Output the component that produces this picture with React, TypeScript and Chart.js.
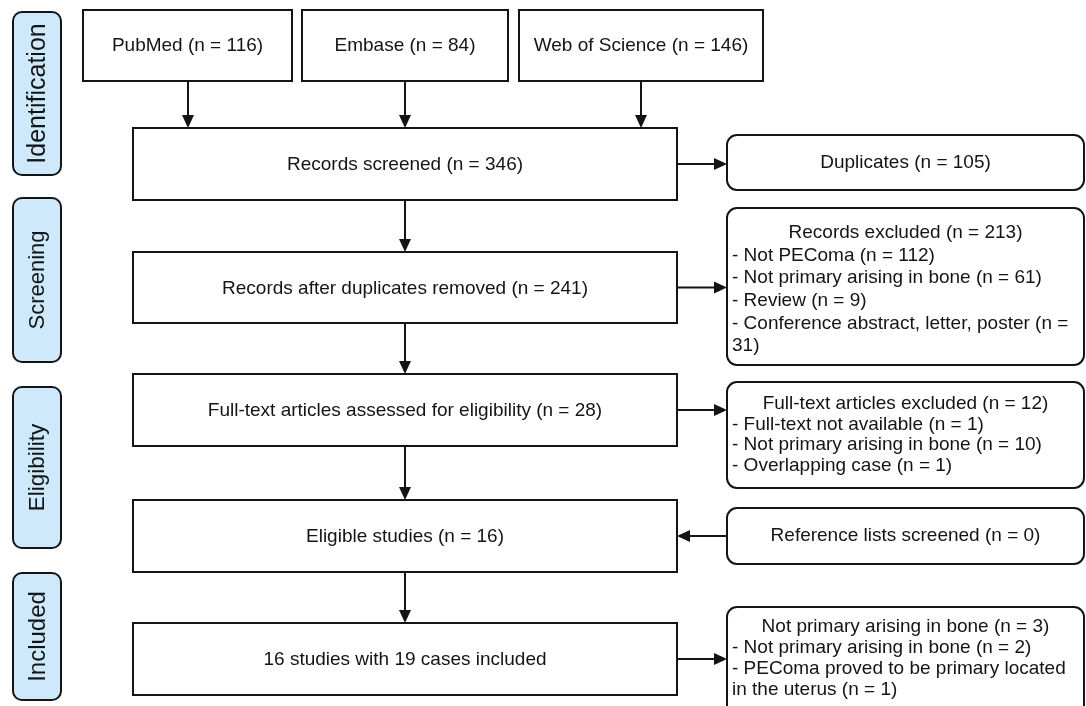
import React, { useEffect, useRef } from "react";
import { Chart, registerables } from "chart.js";

Chart.register(...registerables);

// ---------- data ----------
const sourceNames = ["PubMed", "Embase", "Web of Science"];
const sourceCounts = [116, 84, 146];

const stageNames = ["Identification", "Screening", "Eligibility", "Included"];

const mainSteps = [
  "Records screened",
  "Records after duplicates removed",
  "Full-text articles assessed for eligibility",
  "Eligible studies",
];
const mainCounts = [346, 241, 28, 16];
const includedStudies = 16;
const includedCases = 19;

const duplicatesCount = 105;

const recordsExcludedTotal = 213;
const recordsExcludedReasons = [
  "Not PEComa",
  "Not primary arising in bone",
  "Review",
  "Conference abstract, letter, poster",
];
const recordsExcludedCounts = [112, 61, 9, 31];

const fullTextExcludedTotal = 12;
const fullTextReasons = ["Full-text not available", "Not primary arising in bone", "Overlapping case"];
const fullTextCounts = [1, 10, 1];

const referenceListsCount = 0;

const notPrimaryTotal = 3;
const notPrimaryReasons = ["Not primary arising in bone", "PEComa proved to be primary located in the uterus"];
const notPrimaryCounts = [2, 1];

// ---------- layout (diagram units) ----------
const W = 1086;
const H = 706;
const sourceBoxX = [
  [83, 292],
  [302, 508],
  [519, 763],
];
const sourceBoxY = [10, 81];
const sourceArrowX = [188, 405, 641];
const mainBoxX = [133, 677];
const mainBoxY = [
  [128, 200],
  [252, 323],
  [374, 446],
  [500, 572],
  [623, 695],
];
const sideBoxX = [727, 1084];
const sideBoxY = [
  [135, 190],
  [208, 365],
  [382, 488],
  [508, 564],
  [607, 716],
];
const sideLineHeights = [22, 22.6, 20.5, 22, 21];
const sideTextShift = [0, 3, 0, 0, 3];
const stageBoxX = [13, 61];
const stageBoxY = [
  [12, 175],
  [198, 362],
  [387, 548],
  [573, 700],
];
const stageFontSizes = [25, 22, 22.5, 24];

const FONT = '"Liberation Sans", Arial, Helvetica, sans-serif';
const INK = "#141414";

const nText = (n: number) => `(n = ${n})`;

function roundRect(ctx: CanvasRenderingContext2D, x0: number, y0: number, x1: number, y1: number, r: number) {
  ctx.beginPath();
  ctx.moveTo(x0 + r, y0);
  ctx.lineTo(x1 - r, y0);
  ctx.arcTo(x1, y0, x1, y0 + r, r);
  ctx.lineTo(x1, y1 - r);
  ctx.arcTo(x1, y1, x1 - r, y1, r);
  ctx.lineTo(x0 + r, y1);
  ctx.arcTo(x0, y1, x0, y1 - r, r);
  ctx.lineTo(x0, y0 + r);
  ctx.arcTo(x0, y0, x0 + r, y0, r);
  ctx.closePath();
}

function wrap(ctx: CanvasRenderingContext2D, text: string, maxW: number): string[] {
  const words = text.split(" ");
  const lines: string[] = [];
  let cur = "";
  for (const w of words) {
    const t = cur ? cur + " " + w : w;
    if (ctx.measureText(t).width > maxW && cur) {
      lines.push(cur);
      cur = w;
    } else cur = t;
  }
  if (cur) lines.push(cur);
  return lines;
}

const prismaPlugin = {
  id: "prisma",
  afterDraw(chart: any) {
    const ctx: CanvasRenderingContext2D = chart.ctx;
    const xs = chart.scales.x;
    const ys = chart.scales.y;
    const X = (v: number) => xs.getPixelForValue(v);
    const Y = (v: number) => ys.getPixelForValue(v);

    ctx.save();
    ctx.lineWidth = 2;
    ctx.strokeStyle = INK;
    ctx.fillStyle = INK;

    const rect = (x0: number, y0: number, x1: number, y1: number) => {
      ctx.fillStyle = "#ffffff";
      ctx.fillRect(X(x0), Y(y0), X(x1) - X(x0), Y(y1) - Y(y0));
      ctx.strokeRect(X(x0), Y(y0), X(x1) - X(x0), Y(y1) - Y(y0));
    };
    const rrect = (x0: number, y0: number, x1: number, y1: number, r: number, fill: string) => {
      roundRect(ctx, X(x0), Y(y0), X(x1), Y(y1), r);
      ctx.fillStyle = fill;
      ctx.fill();
      ctx.stroke();
    };
    const arrow = (x0: number, y0: number, x1: number, y1: number) => {
      const px0 = X(x0), py0 = Y(y0), px1 = X(x1), py1 = Y(y1);
      const ang = Math.atan2(py1 - py0, px1 - px0);
      const L = 13, hw = 6;
      ctx.beginPath();
      ctx.moveTo(px0, py0);
      ctx.lineTo(px1 - Math.cos(ang) * L, py1 - Math.sin(ang) * L);
      ctx.stroke();
      ctx.beginPath();
      ctx.moveTo(px1, py1);
      ctx.lineTo(px1 - Math.cos(ang) * L - Math.sin(ang) * hw, py1 - Math.sin(ang) * L + Math.cos(ang) * hw);
      ctx.lineTo(px1 - Math.cos(ang) * L + Math.sin(ang) * hw, py1 - Math.sin(ang) * L - Math.cos(ang) * hw);
      ctx.closePath();
      ctx.fillStyle = INK;
      ctx.fill();
    };
    const centerText = (t: string, x: number, y: number, size = 19) => {
      ctx.font = `${size}px ${FONT}`;
      ctx.fillStyle = INK;
      ctx.textAlign = "center";
      ctx.textBaseline = "middle";
      ctx.fillText(t, X(x), Y(y));
    };

    // stage labels
    stageNames.forEach((name, i) => {
      const [y0, y1] = stageBoxY[i];
      rrect(stageBoxX[0], y0, stageBoxX[1], y1, 9, "#cde9fb");
      ctx.save();
      ctx.translate(X((stageBoxX[0] + stageBoxX[1]) / 2) + 1, Y((y0 + y1) / 2));
      ctx.rotate(-Math.PI / 2);
      ctx.font = `${stageFontSizes[i]}px ${FONT}`;
      ctx.fillStyle = INK;
      ctx.textAlign = "center";
      ctx.textBaseline = "middle";
      ctx.fillText(name, 0, 0);
      ctx.restore();
    });

    // sources
    sourceNames.forEach((name, i) => {
      const [x0, x1] = sourceBoxX[i];
      rect(x0, sourceBoxY[0], x1, sourceBoxY[1]);
      centerText(`${name} ${nText(sourceCounts[i])}`, (x0 + x1) / 2, (sourceBoxY[0] + sourceBoxY[1]) / 2);
      arrow(sourceArrowX[i], sourceBoxY[1], sourceArrowX[i], mainBoxY[0][0]);
    });

    // main column
    const mainTexts = [
      ...mainSteps.map((s, i) => `${s} ${nText(mainCounts[i])}`),
      `${includedStudies} studies with ${includedCases} cases included`,
    ];
    const mcx = (mainBoxX[0] + mainBoxX[1]) / 2;
    mainTexts.forEach((t, i) => {
      const [y0, y1] = mainBoxY[i];
      rect(mainBoxX[0], y0, mainBoxX[1], y1);
      centerText(t, mcx, (y0 + y1) / 2 + 1);
      if (i < mainTexts.length - 1) arrow(mcx, y1, mcx, mainBoxY[i + 1][0]);
    });

    // side boxes
    type Side = { header: string; items: string[]; arrowTo: number; reverse?: boolean };
    const sides: Side[] = [
      { header: `Duplicates ${nText(duplicatesCount)}`, items: [], arrowTo: 0 },
      {
        header: `Records excluded ${nText(recordsExcludedTotal)}`,
        items: recordsExcludedReasons.map((r, i) => `- ${r} ${nText(recordsExcludedCounts[i])}`),
        arrowTo: 1,
      },
      {
        header: `Full-text articles excluded ${nText(fullTextExcludedTotal)}`,
        items: fullTextReasons.map((r, i) => `- ${r} ${nText(fullTextCounts[i])}`),
        arrowTo: 2,
      },
      { header: `Reference lists screened ${nText(referenceListsCount)}`, items: [], arrowTo: 3, reverse: true },
      {
        header: `Not primary arising in bone ${nText(notPrimaryTotal)}`,
        items: notPrimaryReasons.map((r, i) => `- ${r} ${nText(notPrimaryCounts[i])}`),
        arrowTo: 4,
      },
    ];
    const scx = (sideBoxX[0] + sideBoxX[1]) / 2;
    sides.forEach((s, i) => {
      const [y0, y1] = sideBoxY[i];
      rrect(sideBoxX[0], y0, sideBoxX[1], y1, 10, "#ffffff");
      ctx.font = `19px ${FONT}`;
      const lines: { t: string; center: boolean }[] = [{ t: s.header, center: true }];
      s.items.forEach((it) => {
        wrap(ctx, it, X(sideBoxX[1]) - X(sideBoxX[0]) - 8).forEach((l) => lines.push({ t: l, center: false }));
      });
      const lh = sideLineHeights[i];
      const visY1 = Math.min(y1, H);
      const cy = (i === 4 ? (y0 + y1) / 2 - 6 : (y0 + visY1) / 2) + sideTextShift[i];
      const top = cy - ((lines.length - 1) * lh) / 2;
      lines.forEach((l, k) => {
        ctx.fillStyle = INK;
        ctx.textBaseline = "middle";
        if (l.center) {
          ctx.textAlign = "center";
          ctx.fillText(l.t, X(scx), Y(top + k * lh));
        } else {
          ctx.textAlign = "left";
          ctx.fillText(l.t, X(sideBoxX[0] + 5), Y(top + k * lh));
        }
      });
      const [my0, my1] = mainBoxY[s.arrowTo];
      const ay = (my0 + my1) / 2;
      if (s.reverse) arrow(sideBoxX[0], ay, mainBoxX[1], ay);
      else arrow(mainBoxX[1], ay, sideBoxX[0], ay);
    });

    ctx.restore();
  },
};

export default function App() {
  const ref = useRef<HTMLCanvasElement | null>(null);
  useEffect(() => {
    document.body.style.margin = "0";
    if (!ref.current) return;
    const chart = new Chart(ref.current, {
      type: "scatter",
      data: { datasets: [{ data: [], pointRadius: 0 }] },
      options: {
        responsive: false,
        maintainAspectRatio: false,
        animation: false,
        layout: { padding: 0 },
        plugins: { legend: { display: false }, tooltip: { enabled: false } },
        scales: {
          x: { type: "linear", display: false, min: 0, max: W },
          y: { type: "linear", display: false, min: 0, max: H, reverse: true },
        },
      },
      plugins: [prismaPlugin],
    });
    return () => chart.destroy();
  }, []);
  return (
    <div style={{ position: "fixed", left: 0, top: 0, width: W, height: H, background: "#fff" }}>
      <canvas ref={ref} width={W} height={H} style={{ width: W, height: H, display: "block" }} />
    </div>
  );
}
